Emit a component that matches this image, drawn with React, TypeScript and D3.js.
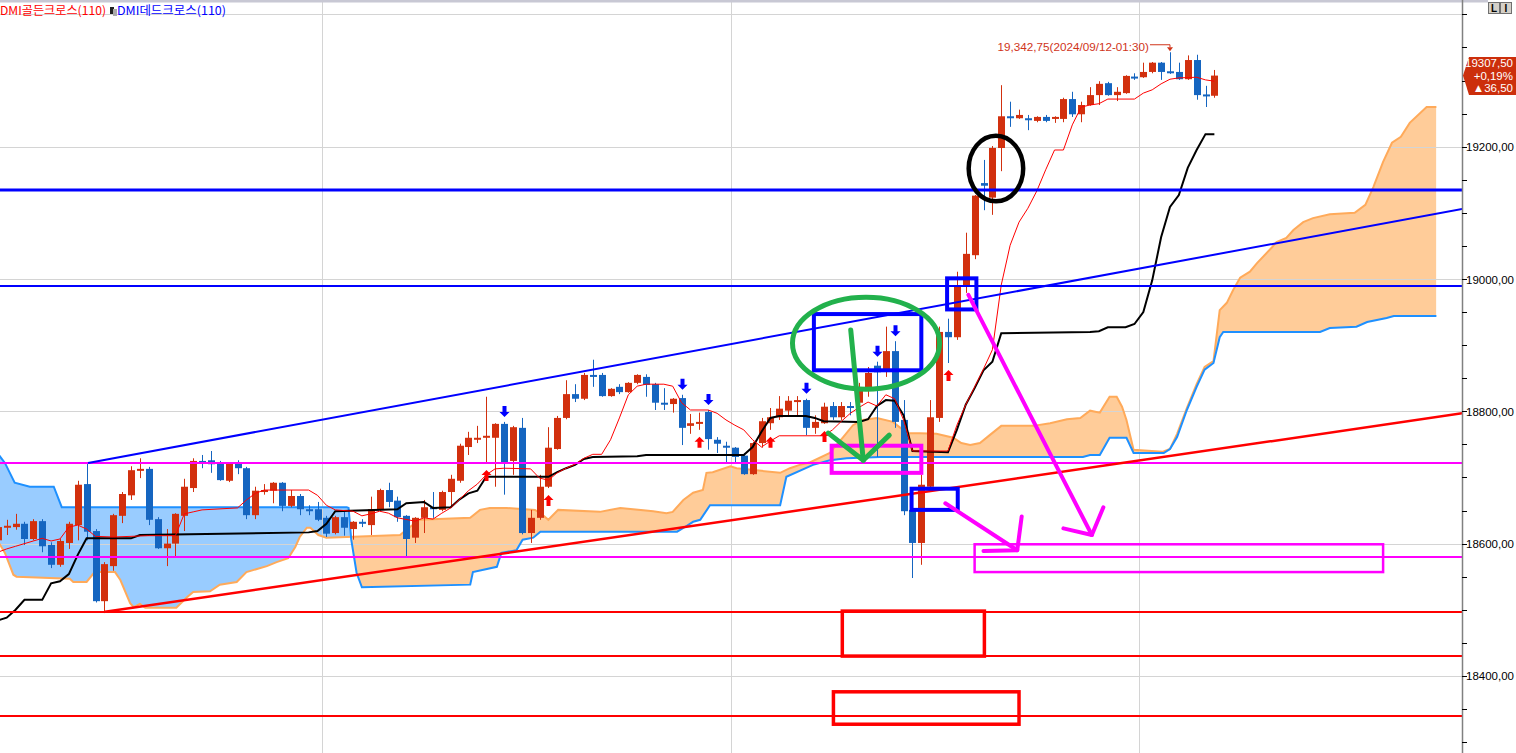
import { useEffect } from "react"
import * as d3 from "d3"

const W = 1516
const H = 753
const PLOT_W = 1462

// candles, bar -1 .. 136
const firstBar = -1
const opens = [18605, 18624, 18625, 18630, 18607, 18634, 18598, 18568, 18601, 18628, 18690, 18619, 18513, 18566, 18642, 18673, 18710, 18713, 18637, 18593, 18600, 18642, 18684, 18725, 18726, 18722, 18695, 18722, 18714, 18643, 18678, 18680, 18692, 18657, 18672, 18652, 18652, 18639, 18616, 18640, 18622, 18633, 18628, 18651, 18681, 18665, 18642, 18609, 18639, 18655, 18651, 18678, 18695, 18746, 18758, 18760, 18760, 18781, 18725, 18775, 18616, 18639, 18686, 18743, 18790, 18826, 18819, 18855, 18855, 18823, 18837, 18829, 18843, 18852, 18841, 18813, 18811, 18820, 18778, 18782, 18799, 18757, 18748, 18745, 18733, 18705, 18752, 18782, 18791, 18801, 18814, 18817, 18775, 18782, 18808, 18791, 18808, 18813, 18835, 18869, 18864, 18891, 18787, 18651, 18601, 18686, 18790, 18920, 18912, 18988, 19036, 19145, 19123, 19198, 19246, 19243, 19243, 19239, 19245, 19242, 19242, 19272, 19249, 19263, 19278, 19296, 19278, 19281, 19306, 19305, 19313, 19327, 19314, 19313, 19302, 19331, 19279, 19277]
const highs = [18633, 18636, 18645, 18633, 18637, 18637, 18602, 18607, 18633, 18695, 18722, 18622, 18572, 18645, 18678, 18717, 18729, 18716, 18640, 18622, 18646, 18698, 18729, 18734, 18740, 18725, 18723, 18726, 18716, 18686, 18690, 18693, 18693, 18681, 18675, 18658, 18663, 18642, 18642, 18648, 18634, 18637, 18671, 18683, 18692, 18671, 18643, 18640, 18666, 18678, 18680, 18704, 18751, 18769, 18778, 18822, 18782, 18784, 18778, 18790, 18651, 18704, 18776, 18793, 18847, 18841, 18858, 18878, 18858, 18835, 18841, 18844, 18856, 18856, 18843, 18835, 18820, 18825, 18796, 18798, 18802, 18761, 18754, 18746, 18737, 18754, 18790, 18805, 18823, 18823, 18823, 18819, 18794, 18813, 18814, 18814, 18814, 18843, 18867, 18875, 18928, 18906, 18817, 18652, 18704, 18817, 18928, 18940, 19011, 19070, 19127, 19180, 19201, 19293, 19268, 19256, 19248, 19246, 19248, 19246, 19274, 19283, 19268, 19290, 19299, 19298, 19290, 19308, 19311, 19327, 19328, 19328, 19342.75, 19327, 19338, 19339, 19292, 19316]
const lows = [18598, 18613, 18621, 18598, 18605, 18587, 18563, 18565, 18592, 18605, 18605, 18511, 18495, 18559, 18631, 18666, 18699, 18628, 18592, 18566, 18581, 18619, 18678, 18714, 18707, 18695, 18693, 18705, 18637, 18637, 18674, 18661, 18649, 18655, 18643, 18643, 18634, 18610, 18614, 18612, 18606, 18625, 18613, 18649, 18655, 18633, 18581, 18601, 18616, 18639, 18649, 18655, 18692, 18734, 18752, 18722, 18686, 18674, 18704, 18614, 18601, 18636, 18684, 18742, 18788, 18814, 18817, 18837, 18822, 18822, 18826, 18828, 18841, 18822, 18802, 18802, 18798, 18749, 18766, 18772, 18742, 18737, 18723, 18722, 18704, 18704, 18745, 18772, 18787, 18793, 18794, 18764, 18766, 18781, 18787, 18787, 18794, 18791, 18822, 18731, 18852, 18775, 18643, 18548, 18568, 18684, 18784, 18873, 18908, 18979, 19030, 19104, 19097, 19163, 19230, 19242, 19225, 19237, 19237, 19236, 19237, 19245, 19237, 19262, 19263, 19277, 19269, 19280, 19301, 19304, 19311, 19301, 19310, 19301, 19301, 19271, 19260, 19274]
const closes = [18625, 18627, 18630, 18607, 18634, 18596, 18568, 18604, 18630, 18689, 18618, 18513, 18569, 18643, 18675, 18711, 18713, 18636, 18593, 18600, 18645, 18686, 18725, 18722, 18720, 18696, 18722, 18714, 18643, 18680, 18681, 18692, 18657, 18672, 18652, 18651, 18636, 18615, 18640, 18624, 18633, 18631, 18652, 18681, 18663, 18640, 18607, 18639, 18655, 18652, 18678, 18698, 18748, 18760, 18760, 18763, 18781, 18723, 18776, 18616, 18639, 18686, 18745, 18790, 18826, 18819, 18855, 18853, 18823, 18834, 18829, 18843, 18855, 18840, 18813, 18810, 18819, 18775, 18782, 18784, 18758, 18751, 18745, 18731, 18705, 18752, 18785, 18791, 18804, 18816, 18817, 18775, 18784, 18807, 18791, 18808, 18807, 18832, 18858, 18859, 18891, 18784, 18649, 18601, 18689, 18791, 18920, 18912, 18988, 19038, 19126, 19141, 19198, 19246, 19245, 19248, 19241, 19245, 19239, 19245, 19272, 19249, 19263, 19278, 19295, 19278, 19283, 19307, 19305, 19313, 19327, 19313, 19312, 19302, 19331, 19278, 19277, 19307.5]

// ichimoku lines: [bar, price]
type Pt = [number, number]
const tenkan: Pt[] = [[-1, 18587], [0, 18592], [1, 18596], [3, 18604], [4, 18608], [5, 18604], [6, 18607], [7, 18625], [8, 18628], [9, 18622], [10, 18611], [12, 18610], [16, 18612], [19, 18612], [20, 18645], [21, 18648], [22, 18651], [26, 18654], [27, 18666], [28, 18676], [29, 18681], [34, 18681], [35, 18673], [36, 18658], [37, 18651], [39, 18649], [40, 18642], [41, 18645], [42, 18649], [43, 18646], [44, 18639], [46, 18634], [47, 18639], [48, 18637], [49, 18646], [50, 18654], [51, 18667], [52, 18680], [53, 18690], [54, 18704], [55, 18713], [56, 18714], [59, 18713], [60, 18699], [61, 18696], [62, 18707], [63, 18714], [64, 18720], [65, 18729], [66, 18735], [67, 18735], [68, 18757], [69, 18790], [70, 18825], [71, 18838], [72, 18841], [74, 18841], [75, 18838], [76, 18813], [77, 18802], [79, 18802], [80, 18797], [81, 18787], [82, 18779], [83, 18772], [84, 18757], [85, 18746], [86, 18755], [87, 18763], [92, 18763], [93, 18772], [94, 18785], [95, 18797], [96, 18806], [97, 18814], [98, 18808], [99, 18825], [100, 18819], [101, 18787], [102, 18740], [106, 18740], [107, 18779], [108, 18810], [109, 18837], [110, 18864], [111, 18893], [112, 18991], [113, 19051], [114, 19086], [115, 19107], [116, 19133], [117, 19165], [118, 19195], [119, 19195], [120, 19233], [121, 19260], [122, 19263], [123, 19265], [124, 19272], [127, 19272], [128, 19281], [129, 19286], [130, 19295], [131, 19302], [132, 19304], [134, 19305], [135, 19301], [136, 19299]]
const kijun: Pt[] = [[-1, 18484], [0, 18488], [1, 18500], [2, 18515], [4, 18515], [5, 18540], [6, 18543], [7, 18554], [8, 18583], [9, 18608], [14, 18608], [15, 18613], [34, 18617], [35, 18619], [36, 18630], [37, 18649], [44, 18652], [45, 18661], [47, 18663], [48, 18654], [50, 18655], [51, 18667], [52, 18676], [53, 18680], [54, 18701], [61, 18701], [62, 18708], [63, 18714], [64, 18719], [65, 18728], [66, 18731], [71, 18732], [72, 18734], [83, 18734], [84, 18746], [85, 18769], [86, 18790], [87, 18793], [90, 18793], [91, 18790], [92, 18785], [96, 18784], [97, 18788], [98, 18808], [99, 18817], [100, 18816], [101, 18794], [102, 18740], [106, 18738], [107, 18772], [108, 18810], [109, 18835], [110, 18862], [111, 18875], [112, 18918], [122, 18920], [123, 18921], [124, 18927], [126, 18927], [127, 18932], [128, 18950], [129, 18998], [130, 19063], [131, 19109], [132, 19127], [133, 19168], [134, 19195], [135, 19219], [136, 19219]]
const spanA: Pt[] = [[-1, 18604], [-0.2, 18586], [0.75, 18553], [1.1, 18550], [7.1, 18547], [7.5, 18542], [9, 18542], [9.9, 18557], [12.2, 18557], [12.8, 18545], [13.9, 18510], [14.3, 18504], [15, 18509], [15.6, 18503], [19.1, 18503], [20.3, 18519], [21, 18527], [22.9, 18528], [24, 18538], [25.9, 18542], [27, 18557], [29.3, 18566], [30.4, 18572], [31.7, 18578], [32.5, 18595], [33, 18610], [33.8, 18624], [34.2, 18624], [35.1, 18613], [36, 18609], [44.3, 18613], [45, 18621], [46.5, 18636], [52.2, 18639], [53.3, 18651], [54.4, 18654], [56.3, 18654], [59.5, 18651], [60.4, 18643], [61, 18636], [62.1, 18651], [66.8, 18648], [69.1, 18654], [72.8, 18649], [74.3, 18646], [75, 18648], [76.2, 18666], [77.3, 18677], [78.4, 18681], [78.8, 18707], [79.5, 18708], [81.5, 18717], [82.2, 18714], [87.1, 18707], [88.2, 18714], [89.3, 18719], [90.5, 18723], [92.7, 18737], [94.2, 18761], [95.3, 18779], [96.4, 18787], [98, 18790], [99.8, 18784], [101.4, 18767], [102.8, 18767], [104.7, 18766], [106.6, 18760], [107.5, 18752], [108.5, 18749], [109.6, 18752], [110.7, 18764], [112, 18778], [115.6, 18778], [117.5, 18782], [119.4, 18788], [120.9, 18790], [122, 18801], [123.1, 18798], [124.2, 18822], [125, 18822], [125.6, 18807], [126.1, 18787], [126.9, 18742], [130.2, 18739], [131, 18743], [131.8, 18766], [132.9, 18805], [134, 18841], [134.9, 18867], [135.9, 18876], [136.6, 18953], [137.4, 18964], [138.1, 18983], [138.9, 19002], [140, 19011], [140.8, 19024], [142.5, 19048], [143, 19056], [144.1, 19062], [144.9, 19074], [146, 19086], [147.1, 19092], [149, 19098], [151.8, 19100], [153, 19112], [153.9, 19139], [155, 19177], [156, 19206], [157, 19215], [158, 19236], [159.9, 19260], [161, 19260]]
const spanB: Pt[] = [[-1, 18736], [-0.2, 18722], [0.9, 18692], [2.6, 18686], [5.3, 18686], [6.2, 18655], [38.3, 18655], [38.5, 18654], [38.8, 18606], [39.4, 18556], [40, 18534], [52.2, 18538], [52.5, 18557], [55.2, 18565], [55.7, 18586], [57.4, 18590], [58.1, 18606], [59.3, 18609], [60.1, 18618], [75.5, 18618], [76.6, 18627], [77.3, 18633], [78.1, 18636], [79.2, 18658], [87.1, 18658], [87.8, 18701], [90.8, 18719], [92.7, 18726], [94.6, 18729], [98.3, 18731], [121.2, 18731], [122, 18734], [123.1, 18734], [124.2, 18760], [126.1, 18760], [126.9, 18737], [130.3, 18737], [131, 18743], [131.8, 18761], [132.9, 18802], [134, 18837], [134.9, 18863], [135.9, 18873], [136.6, 18912], [137, 18920], [147.9, 18920], [149, 18926], [152, 18928], [153.2, 18935], [155.4, 18941], [156.2, 18944], [161, 18944]]

// DMI cross signals
const goldenBars = [54, 61, 78, 86, 92, 106]
const deadBars = [56, 76, 79, 90, 98, 100]

// axis
const gridPrices = [19400, 19200, 19000, 18800, 18600, 18400]
const labelPrices = [19200, 19000, 18800, 18600, 18400]
const sessionBreaks = [35.55, 81.6, 127.55]
const highBar = 131
const highText = "19,342,75(2024/09/12-01:30)"
const lastLines = ["19307,50", "+0,19%", "▲36,50"]

// hand drawn notes: [bar, price] or [bar0, price0, bar1, price1]
const blueLevels = [19134.5, 18989.5]
const magentaLevels = [18721.9, 18579.8]
const redLevels = [18496.6, 18430.1, 18339.4]
const blueTrend: Pt[] = [[9.16, 18722], [163.9, 19106]]
const redTrend: Pt[] = [[11.07, 18497], [163.9, 18797]]
const blueBoxes = [[90.9, 18947, 103.0, 18862], [105.9, 19001, 109.2, 18954], [101.9, 18683, 107.1, 18651]]
const magentaBoxes = [[92.9, 18748, 103.0, 18707], [109.0, 18599, 155.0, 18557]]
const redBoxes = [[94.1, 18498, 110.1, 18430], [93.1, 18376, 114.0, 18327]]
const greenEllipse = [96.77, 18903, 8.28, 69.5]
const blackEllipse = [111.4, 19167, 3.07, 49.6]
const greenStrokes: Pt[][] = [[[95.05, 18923], [96.46, 18726]], [[92.52, 18767], [96.46, 18726], [99.39, 18764]]]
const magentaArrows: Pt[][] = [
  [[108.3, 18976], [122.2, 18613]], [[119.0, 18623], [122.2, 18613], [123.5, 18655]],
  [[105.7, 18661], [113.8, 18590]], [[110.0, 18589], [113.8, 18590], [114.3, 18641]],
]

const UP = "#d2300e"
const DOWN = "#1565c0"
const NUM_FONT = "'Liberation Sans', Arial, sans-serif"
const KR_FONT = "'Noto Sans CJK KR', sans-serif"

export default function App() {
  useEffect(() => {
    document.body.style.margin = "0"
    document.body.style.overflow = "hidden"
  }, [])

  const x = d3.scaleLinear().domain([0, 136]).range([6.7, 6.7 + 136 * 8.88])
  const y = d3.scaleLinear().domain([18283.5, 19421.75]).range([H, 0])

  const candles = opens.map((o, i) => ({ bar: firstBar + i, o, h: highs[i], l: lows[i], c: closes[i] }))
  const byBar = (b: number) => candles[b - firstBar]

  const line = d3.line<Pt>().x(d => x(d[0])).y(d => y(d[1]))
  const above = d3.area<Pt>().x(d => x(d[0])).y0(0).y1(d => y(d[1]))
  const below = d3.area<Pt>().x(d => x(d[0])).y0(d => y(d[1])).y1(H)

  const rect = (b: number[]) => {
    const x0 = x(b[0]), x1 = x(b[2]), y0 = y(b[1]), y1 = y(b[3])
    return { x: Math.min(x0, x1), y: Math.min(y0, y1), width: Math.abs(x1 - x0), height: Math.abs(y1 - y0) }
  }
  const ell = (e: number[]) => ({
    cx: x(e[0]), cy: y(e[1]), rx: x(e[0] + e[2]) - x(e[0]), ry: y(e[1] - e[3]) - y(e[1]),
  })

  const hx = x(highBar)
  const hy = y(highs[highBar - firstBar])

  return (
    <svg width={W} height={H} style={{ position: "absolute", left: 0, top: 0, background: "#fff" }}>
      <defs>
        <clipPath id="plot"><rect x={0} y={0} width={PLOT_W} height={H} /></clipPath>
        <clipPath id="aboveB"><path d={above(spanB) || ""} /></clipPath>
        <clipPath id="aboveA"><path d={above(spanA) || ""} /></clipPath>
      </defs>

      <g clipPath="url(#plot)">
        {/* cloud */}
        <path d={below(spanA) || ""} fill="#ffcc99" clipPath="url(#aboveB)" />
        <path d={below(spanB) || ""} fill="#99ccff" clipPath="url(#aboveA)" />

        {/* grid */}
        {gridPrices.map(p => (
          <line key={p} x1={0} x2={PLOT_W} y1={Math.round(y(p)) + 0.5} y2={Math.round(y(p)) + 0.5} stroke="#d4d4d4" />
        ))}
        {sessionBreaks.map(b => (
          <line key={b} x1={Math.round(x(b)) + 0.5} x2={Math.round(x(b)) + 0.5} y1={0} y2={H} stroke="#d4d4d4" />
        ))}

        <path d={line(spanA) || ""} fill="none" stroke="#ffaa5a" strokeWidth={2} />
        <path d={line(spanB) || ""} fill="none" stroke="#1e90ff" strokeWidth={2} />

        {/* candles */}
        {candles.map(d => {
          const cx = Math.round(x(d.bar))
          const col = d.c >= d.o ? UP : DOWN
          const top = y(Math.max(d.o, d.c))
          const h = Math.max(2, y(Math.min(d.o, d.c)) - top)
          return (
            <g key={d.bar}>
              <line x1={cx + 0.5} x2={cx + 0.5} y1={y(d.h)} y2={y(d.l)} stroke={col} />
              <rect x={cx - 3} y={top} width={7} height={h} fill={col} />
            </g>
          )
        })}

        <path d={line(kijun) || ""} fill="none" stroke="#000" strokeWidth={2} />
        <path d={line(tenkan) || ""} fill="none" stroke="#ff0000" strokeWidth={1} />

        {/* DMI signals */}
        {goldenBars.map(b => {
          const cx = Math.round(x(b)) + 0.5
          const t = y(byBar(b).l) + 7
          return <path key={b} d={`M${cx},${t}L${cx + 5},${t + 5}L${cx + 2},${t + 5}L${cx + 2},${t + 11}L${cx - 2},${t + 11}L${cx - 2},${t + 5}L${cx - 5},${t + 5}Z`} fill="#ff0000" />
        })}
        {deadBars.map(b => {
          const cx = Math.round(x(b)) + 0.5
          const t = y(byBar(b).h) - 5
          return <path key={b} d={`M${cx},${t}L${cx + 5},${t - 5}L${cx + 2},${t - 5}L${cx + 2},${t - 11}L${cx - 2},${t - 11}L${cx - 2},${t - 5}L${cx - 5},${t - 5}Z`} fill="#0000ff" />
        })}

        {/* high marker */}
        <text x={hx - 21} y={hy - 1} textAnchor="end" fontFamily={NUM_FONT} fontSize={11.7} fill="#d0341a">{highText}</text>
        <path d={`M${hx - 20},${hy - 7.5}H${hx}V${hy - 5}`} fill="none" stroke="#d0341a" />
        <path d={`M${hx - 3},${hy - 5}L${hx + 3},${hy - 5}L${hx},${hy - 1}Z`} fill="#d0341a" />

        {/* hand drawn notes */}
        {blueLevels.map((p, i) => (
          <line key={p} x1={0} x2={PLOT_W} y1={y(p)} y2={y(p)} stroke="#0000ff" strokeWidth={i === 0 ? 3 : 2} />
        ))}
        {magentaLevels.map(p => (
          <line key={p} x1={0} x2={PLOT_W} y1={y(p)} y2={y(p)} stroke="#ff00ff" strokeWidth={2} />
        ))}
        {redLevels.map(p => (
          <line key={p} x1={0} x2={PLOT_W} y1={y(p)} y2={y(p)} stroke="#ff0000" strokeWidth={2} />
        ))}
        <path d={line(blueTrend) || ""} stroke="#0000ff" strokeWidth={2} fill="none" />
        <path d={line(redTrend) || ""} stroke="#ff0000" strokeWidth={2.5} fill="none" />

        {blueBoxes.map((b, i) => <rect key={i} {...rect(b)} fill="none" stroke="#0000ff" strokeWidth={4} />)}
        {magentaBoxes.map((b, i) => <rect key={i} {...rect(b)} fill="none" stroke="#ff00ff" strokeWidth={i === 0 ? 4 : 2.5} />)}
        {redBoxes.map((b, i) => <rect key={i} {...rect(b)} fill="none" stroke="#ff0000" strokeWidth={3.5} />)}

        <ellipse {...ell(greenEllipse)} fill="none" stroke="#22b14c" strokeWidth={5} />
        <ellipse {...ell(blackEllipse)} fill="none" stroke="#000" strokeWidth={4.5} />
        {greenStrokes.map((s, i) => (
          <path key={i} d={line(s) || ""} fill="none" stroke="#22b14c" strokeWidth={5} strokeLinecap="round" strokeLinejoin="round" />
        ))}
        {magentaArrows.map((s, i) => (
          <path key={i} d={line(s) || ""} fill="none" stroke="#ff00ff" strokeWidth={4} strokeLinecap="round" strokeLinejoin="round" />
        ))}
      </g>

      {/* top strip and legend */}
      <rect x={0} y={0} width={1488} height={2.5} fill="#c8c8d4" />
      <text x={0} y={15} fontFamily={KR_FONT} fontSize={12} fill="#ff0000" textLength={106} lengthAdjust="spacingAndGlyphs">DMI골든크로스(110)</text>
      <rect x={110} y={7} width={4} height={7} fill="#222" />
      <rect x={113} y={9} width={4} height={7} fill="#aaa" />
      <text x={117} y={15} fontFamily={KR_FONT} fontSize={12} fill="#0000ff" textLength={109} lengthAdjust="spacingAndGlyphs">DMI데드크로스(110)</text>

      {/* right axis */}
      <line x1={PLOT_W + 0.5} x2={PLOT_W + 0.5} y1={0} y2={H} stroke="#808080" strokeWidth={1.5} />
      {d3.range(18300, 19401, 50).map(p => (
        <line key={p} x1={PLOT_W} x2={PLOT_W + 5} y1={Math.round(y(p)) + 0.5} y2={Math.round(y(p)) + 0.5} stroke="#000" />
      ))}
      {labelPrices.map(p => (
        <text key={p} x={1466} y={y(p) + 4.5} fontFamily={NUM_FONT} fontSize={11.5} fill="#000">{`${p},00`}</text>
      ))}

      {/* last price tag */}
      <path d={`M${PLOT_W + 1},${y(closes[closes.length - 1])}L${PLOT_W + 7},57H1516V95H${PLOT_W + 7}Z`} fill="#cc2f0c" />
      {lastLines.map(t => (
        <text key={t} x={1513} y={67 + lastLines.indexOf(t) * 12.6} textAnchor="end" fontFamily={NUM_FONT} fontSize={11.5} fill="#fff">{t}</text>
      ))}

      {/* L / I buttons */}
      {["L", "I"].map((t, i) => (
        <g key={t}>
          <rect x={1488.5 + i * 12} y={2.5} width={11} height={11} fill="#d4d0c8" stroke="#707070" />
          <text x={1494 + i * 12} y={12} textAnchor="middle" fontFamily={NUM_FONT} fontSize={10} fontWeight="bold" fill="#000">{t}</text>
        </g>
      ))}
    </svg>
  )
}
